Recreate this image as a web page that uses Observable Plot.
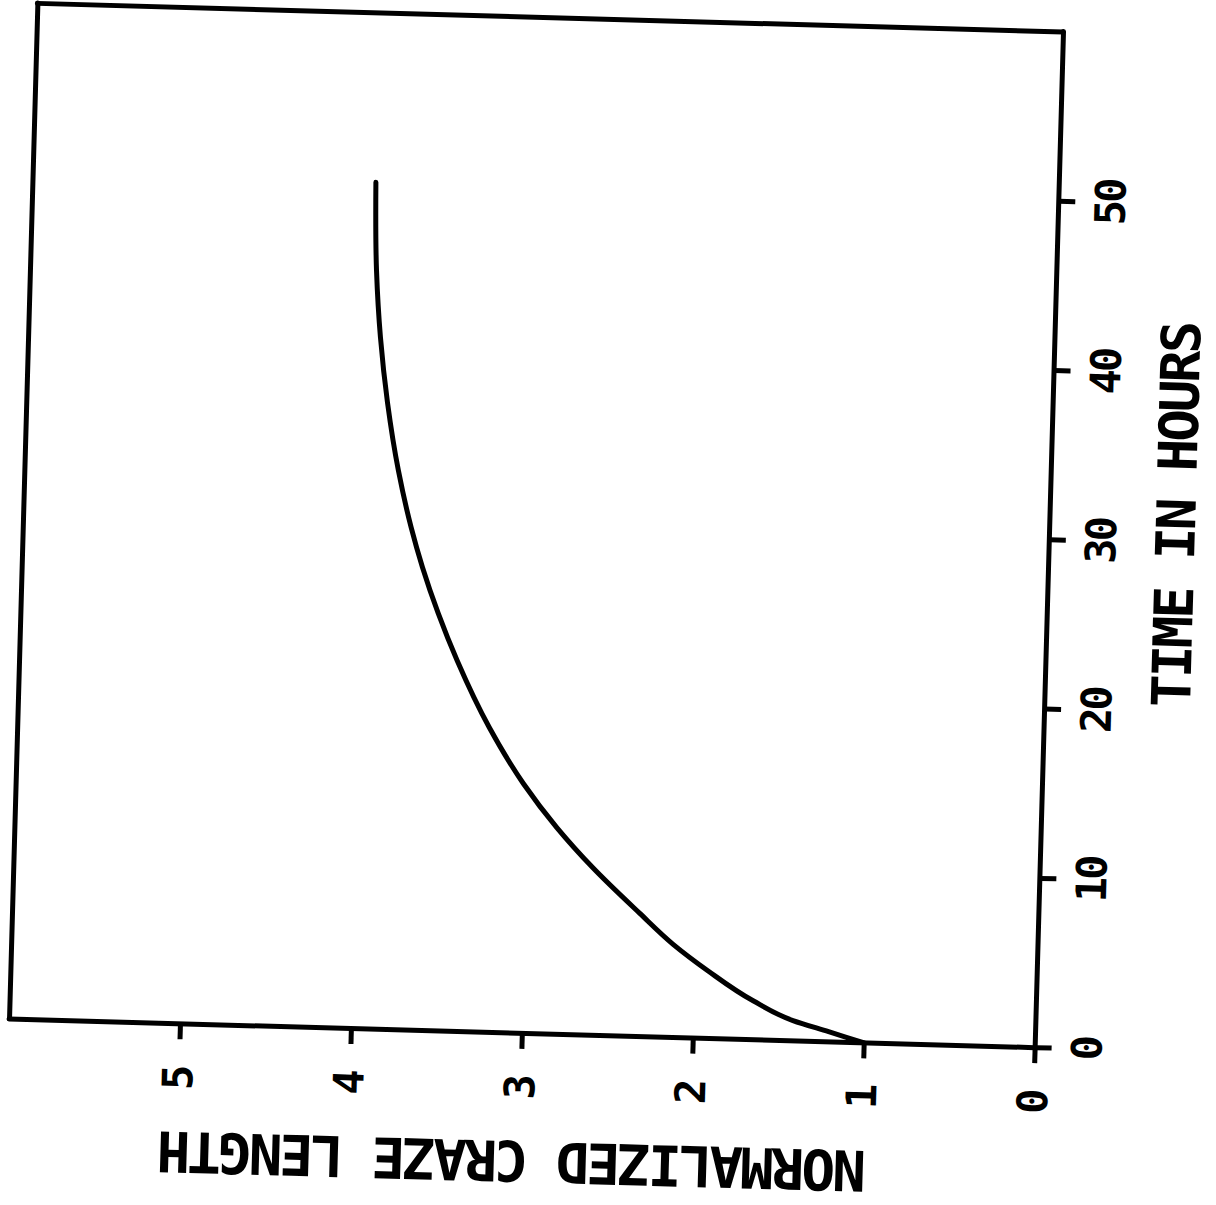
<!DOCTYPE html>
<html>
<head>
<meta charset="utf-8">
<script src="https://cdn.jsdelivr.net/npm/d3@7"></script>
<script src="https://cdn.jsdelivr.net/npm/@observablehq/plot@0.6"></script>
<style>
  html, body { margin: 0; padding: 0; background: #fff; }
  #chart { position: relative; width: 1216px; height: 1205px; overflow: hidden; background: #fff; }
  /* the plotted sheet sits a little askew on the page */
  #chart svg { position: absolute; left: 0; top: 0; transform: rotate(1.6deg); transform-origin: 536px 526px; }
  .ticklabels text { letter-spacing: -3px; }
  .title text { letter-spacing: -3px; }
</style>
</head>
<body>
<div id="chart"></div>
<script>
// Craze growth: normalized craze length against time (hours)
const timeHours   = [0, 0.6, 1.2, 2.3, 4.0, 5.5, 7.3, 9.9, 12.2, 14.75, 18.0, 21.9, 24.65, 27.35, 29.7, 33.0, 37.0, 40.85, 44.8, 50.0];
const crazeLength = [1.0, 1.21, 1.42, 1.656, 1.926, 2.133, 2.336, 2.616, 2.832, 3.035, 3.243, 3.442, 3.56, 3.66, 3.733, 3.816, 3.891, 3.943, 3.977, 3.995];

const lengthTicks = [0, 1, 2, 3, 4, 5];
const timeTicks   = [0, 10, 20, 30, 40, 50];
const lengthMax = 6;
const timeMax = 60;

const lengthTitle = "NORMALIZED CRAZE LENGTH";
const timeTitle = "TIME IN HOURS";

const data = timeHours.map((t, i) => ({time: t, length: crazeLength[i]}));

const ink = "#000";
const font = "'DejaVu Sans Mono', monospace";
const heavy = {stroke: ink, strokeWidth: 5, strokeLinecap: "round"};
const tickText = {
  tickSize: 16, strokeWidth: 5, tickRotate: -90,
  textAnchor: "middle", lineAnchor: "middle",
  fontSize: 42, fontWeight: "bold", fontFamily: font, fill: ink,
  tickFormat: d => String(d), label: null, className: "ticklabels"
};
const titleText = {
  text: d => d, textAnchor: "middle", lineAnchor: "middle",
  fontWeight: "bold", fontFamily: font, fill: ink, className: "title"
};

const chart = Plot.plot({
  width: 1216,
  height: 1205,
  marginLeft: 23,
  marginRight: 167,
  marginTop: 17,
  marginBottom: 172,
  style: {background: "#fff", color: ink, fontFamily: font},
  x: {domain: [0, lengthMax], reverse: true},
  y: {domain: [0, timeMax]},
  marks: [
    // box: far edges plus the two axis lines
    Plot.ruleX([lengthMax], heavy),
    Plot.ruleY([timeMax], heavy),
    Plot.ruleX([0], heavy),
    Plot.ruleY([0], heavy),
    Plot.axisX({...tickText, ticks: lengthTicks, anchor: "bottom", tickPadding: 39}),
    Plot.axisY({...tickText, ticks: timeTicks, anchor: "right", tickPadding: 37}),
    Plot.line(data, {x: "length", y: "time", stroke: ink, strokeWidth: 5, curve: "monotone-y"}),
    Plot.text([lengthTitle], {...titleText, frameAnchor: "bottom", dx: -6, dy: 126, rotate: 180, fontSize: 56}),
    Plot.text([timeTitle], {...titleText, frameAnchor: "right", dx: 128, dy: -28, rotate: -90, fontSize: 54})
  ]
});

document.getElementById("chart").appendChild(chart);
</script>
</body>
</html>
